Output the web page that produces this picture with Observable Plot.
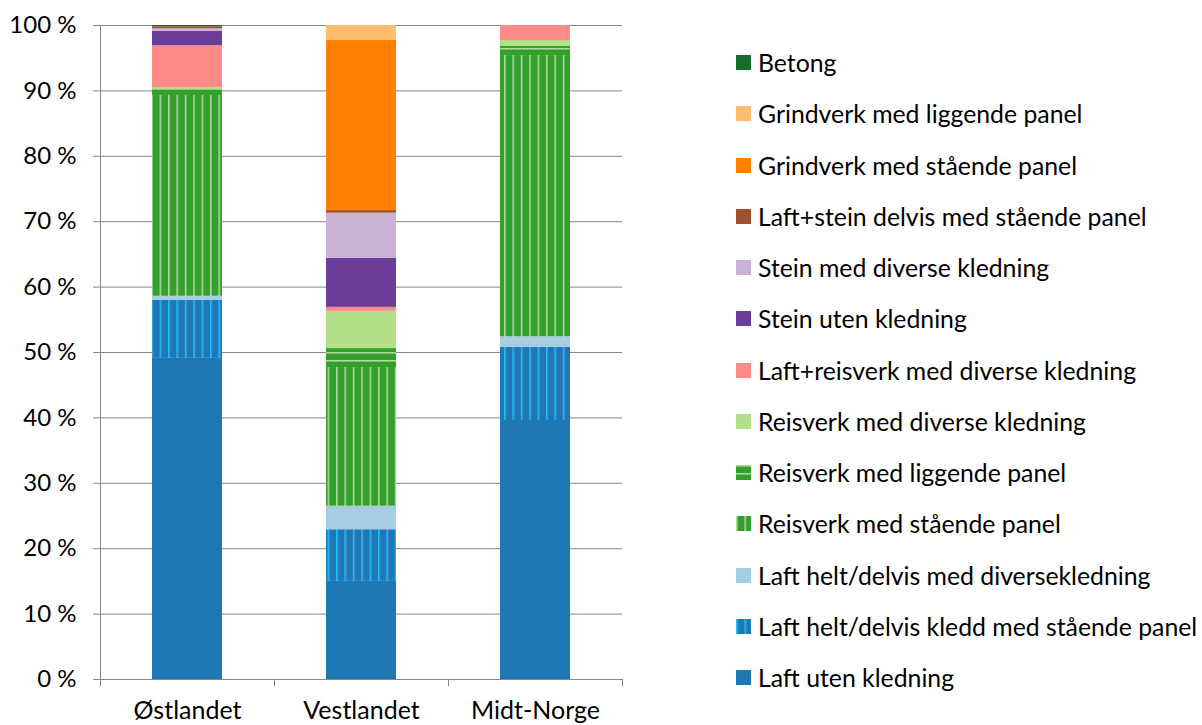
<!DOCTYPE html>
<html><head><meta charset="utf-8">
<script src="https://cdn.jsdelivr.net/npm/d3@7"></script>
<script src="https://cdn.jsdelivr.net/npm/@observablehq/plot@0.6"></script>
<style>
body{margin:0;background:#fff;font-family:Lato, sans-serif;}
#wrap{position:relative;width:1202px;height:725px;overflow:hidden}
#chart{position:absolute;left:0;top:0}
#legend{position:absolute;left:736px;top:37px;}
.item{display:flex;align-items:center;height:51.25px;font-size:24.8px;color:#000;white-space:nowrap}
.item svg{margin-right:7px;flex:none}
</style></head><body>
<svg width="0" height="0" style="position:absolute">
<defs>
<pattern id="p-laft-st" patternUnits="userSpaceOnUse" width="8.4" height="10">
<rect width="8.4" height="10" fill="#1F77B4"/><rect x="0" width="1.3" height="10" fill="#1EC0FF"/><rect x="1.3" width="0.9" height="10" fill="#3A9AD6"/>
</pattern>
<pattern id="p-reis-st" patternUnits="userSpaceOnUse" width="8.4" height="10">
<rect width="8.4" height="10" fill="#33A02C"/><rect x="0" width="1.6" height="10" fill="#A9D79C"/>
</pattern>
<pattern id="p-reis-lig" patternUnits="userSpaceOnUse" width="10" height="8">
<rect width="10" height="8" fill="#33A02C"/><rect y="0" width="10" height="1.6" fill="#A9D79C"/>
</pattern>
</defs></svg>
<div id="wrap"><div id="chart"></div><div id="legend"></div></div>
<script>
const regions = ["Østlandet", "Vestlandet", "Midt-Norge"];
const types = [
  "Laft uten kledning",
  "Laft helt/delvis kledd med stående panel",
  "Laft helt/delvis med diversekledning",
  "Reisverk med stående panel",
  "Reisverk med liggende panel",
  "Reisverk med diverse kledning",
  "Laft+reisverk med diverse kledning",
  "Stein uten kledning",
  "Stein med diverse kledning",
  "Laft+stein delvis med stående panel",
  "Grindverk med stående panel",
  "Grindverk med liggende panel",
  "Betong"
];
const ostlandet  = [49.1, 8.9, 0.6, 30.7, 0.9, 0.3, 6.4, 2.2, 0.4, 0.3, 0, 0, 0.2];
const vestlandet = [15.0, 7.9, 3.6, 21.2, 2.9, 5.7, 0.6, 7.5, 6.9, 0.4, 26.0, 2.3, 0];
const midtNorge  = [39.6, 11.2, 1.6, 43.0, 1.4, 0.9, 2.3, 0, 0, 0, 0, 0, 0];
const yTicks = [0, 10, 20, 30, 40, 50, 60, 70, 80, 90, 100];

const fills = [
  "#1F77B4", "url(#p-laft-st)", "#A6CEE3",
  "url(#p-reis-st)", "url(#p-reis-lig)", "#B2DF8A",
  "#FF8A87", "#6A3D9A", "#CAB2D6", "#A0522D",
  "#FF7F00", "#FDBF6F", "#1A6B2A"
];

const series = [ostlandet, vestlandet, midtNorge];
const data = [];
regions.forEach((r, ri) => types.forEach((t, ti) => {
  if (series[ri][ti] > 0) data.push({region: r, type: t, value: series[ri][ti]});
}));

const W = 640, ML = 100, MR = 18;
const half = (W - ML - MR) / regions.length / 2;
const grid = "#868686";
const fsY = 24, fsX = 25;

const chart = Plot.plot({
  width: W, height: 725,
  marginLeft: ML, marginRight: MR, marginTop: 25, marginBottom: 46,
  style: {fontFamily: "Lato, sans-serif", fontSize: fsY + "px", color: "#000", background: "#fff", overflow: "visible"},
  x: {domain: regions, paddingInner: 0.6, paddingOuter: 0.3, label: null},
  y: {domain: [0, 100], label: null},
  color: {type: "ordinal", domain: types, range: fills},
  marks: [
    Plot.gridY(yTicks, {stroke: grid, strokeOpacity: 1}),
    Plot.barY(data, {x: "region", y: "value", fill: "type", order: types}),
    Plot.axisY(yTicks, {tickFormat: d => d + " %", tickSize: 7, tickPadding: 17, stroke: grid, strokeOpacity: 1, fontSize: fsY, label: null}),
    Plot.frame({anchor: "left", stroke: grid, strokeOpacity: 1}),
    Plot.ruleY([0], {stroke: grid, strokeOpacity: 1}),
    Plot.axisX({tickSize: 0, tickPadding: 22, fontSize: fsX, label: null}),
    Plot.axisX({tickSize: 7, tickFormat: () => "", dx: -half, stroke: grid, strokeOpacity: 1, label: null}),
    Plot.axisX([regions[regions.length - 1]], {tickSize: 7, tickFormat: () => "", dx: half, stroke: grid, strokeOpacity: 1, label: null})
  ]
});
document.getElementById("chart").appendChild(chart);

const legend = document.getElementById("legend");
types.slice().reverse().forEach(t => {
  const i = types.indexOf(t);
  const div = document.createElement("div");
  div.className = "item";
  div.innerHTML = `<svg width="15" height="15"><rect width="15" height="15" fill="${fills[i]}"/></svg><span>${t}</span>`;
  legend.appendChild(div);
});
</script>
</body></html>
